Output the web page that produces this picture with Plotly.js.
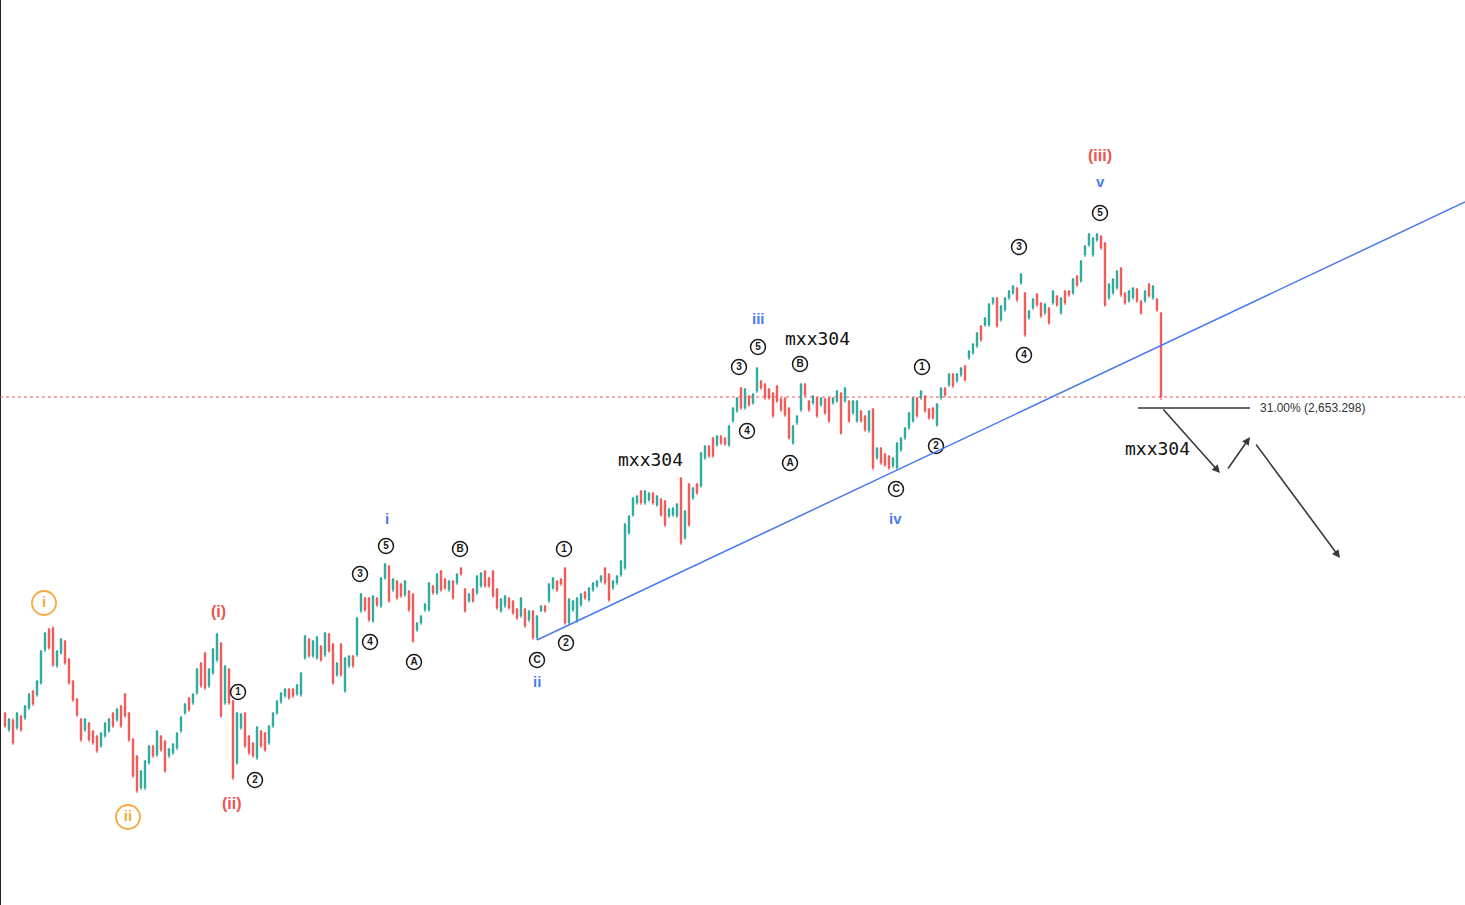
<!DOCTYPE html>
<html><head><meta charset="utf-8">
<script src="https://cdn.plot.ly/plotly-3.0.1.min.js"></script>
<style>html,body{margin:0;padding:0;background:#fff;overflow:hidden}#chart{width:1465px;height:905px}</style>
</head><body><div id="chart"></div>
<script>
// ---- OHLC bars (price units) ----
const openP=[287,270,280,272,284,282,292,309,305,317,
350,371,372,334,347,359,341,319,301,281,
270,277,269,264,254,264,269,287,280,294,
306,287,261,244,212,212,237,254,245,264,
259,244,247,252,269,287,302,297,307,337,
347,314,327,340,357,297,331,299,237,272,
287,264,257,242,269,267,257,274,287,298,
304,311,311,306,305,342,361,344,342,354,
345,366,356,325,356,309,334,344,345,389,
402,402,379,402,394,422,434,410,419,416,
405,409,406,370,377,390,390,414,407,429,
421,410,419,417,432,411,399,411,407,414,
429,422,429,411,389,394,402,399,391,384,
391,380,389,362,389,394,399,412,419,421,
432,377,390,379,395,408,400,410,414,419,
432,426,412,417,425,432,467,485,497,509,
497,500,507,495,501,499,484,485,484,522,
462,516,502,516,514,542,554,562,555,564,
562,555,579,589,612,592,604,597,609,619,
616,611,607,614,601,602,592,557,577,590,
616,599,597,602,595,601,602,597,599,607,
599,599,587,579,589,584,569,591,542,552,
546,544,534,532,550,562,572,579,602,602,
604,591,592,575,602,612,615,626,619,625,
634,642,647,654,674,675,675,697,702,680,
690,702,707,712,717,707,682,692,706,697,
687,692,697,704,687,709,709,707,724,719,
745,755,745,760,764,757,702,707,712,732,
707,699,702,711,699,699,716,702,701,687];
const highP=[288,282,282,288,285,295,307,310,320,350,
368,372,374,350,362,360,342,320,302,282,
282,278,270,265,268,278,282,288,292,295,
307,288,262,245,230,240,255,255,270,265,
260,252,257,268,284,297,303,307,332,338,
348,332,352,367,358,335,332,300,288,287,
288,265,258,274,270,268,275,288,300,308,
312,312,312,316,328,365,362,360,364,355,
368,367,357,338,357,343,345,345,383,407,
403,403,405,403,423,437,435,422,420,417,
420,410,407,378,385,397,418,415,427,430,
422,420,420,427,433,412,407,412,425,428,
430,423,430,412,402,405,403,400,392,403,
392,390,390,385,395,395,417,423,420,422,
433,402,400,403,407,409,413,418,420,425,
433,427,420,425,440,477,485,503,505,510,
510,508,508,505,502,500,492,493,497,523,
490,517,513,517,548,555,555,563,565,565,
563,575,593,603,613,612,605,607,633,620,
617,612,608,615,602,603,593,575,585,617,
617,600,605,603,603,602,603,603,610,608,
613,600,600,600,590,585,590,592,553,553,
547,545,543,558,563,573,588,603,603,610,
605,592,593,597,613,613,627,627,627,633,
635,650,657,668,675,683,697,703,703,695,
703,710,715,713,727,708,690,702,707,698,
697,693,710,705,703,710,710,722,725,740,
755,767,763,767,765,758,717,722,730,733,
708,710,713,712,700,710,717,715,702,688];
const lowP=[272,268,255,270,268,280,290,294,303,315,
348,350,333,332,345,335,315,298,283,258,
268,258,255,247,252,262,267,272,278,272,
282,258,222,207,210,210,235,242,243,248,
227,242,245,250,267,285,288,295,305,312,
310,312,325,338,282,295,295,220,235,270,
252,245,242,240,252,248,255,272,285,296,
302,300,302,304,303,340,342,342,340,338,
343,347,315,323,323,307,332,332,343,387,
388,378,377,393,392,420,397,408,400,402,
403,388,357,368,375,388,388,405,405,408,
410,408,400,415,424,387,397,397,405,412,
412,412,402,390,387,392,390,385,380,382,
372,378,360,360,388,387,397,410,408,414,
375,375,388,377,393,400,398,408,412,417,
415,398,410,415,423,430,465,483,495,495,
495,498,495,493,483,473,482,483,482,455,
460,473,500,505,512,540,542,542,553,555,
554,553,577,587,590,590,593,595,607,610,
600,600,582,597,588,583,560,555,575,588,
603,588,595,582,593,585,577,595,597,565,
597,577,585,577,577,568,567,530,540,535,
533,530,532,530,548,560,570,577,582,600,
587,580,580,573,600,603,613,612,617,623,
618,640,645,652,658,673,673,695,672,678,
688,700,705,698,715,663,680,690,693,682,
685,675,695,693,685,695,703,705,713,717,
743,753,743,758,750,693,700,705,710,703,
695,697,700,697,685,697,702,700,688,600];
const closeP=[274,281,257,287,270,294,306,296,319,349,
367,352,335,349,361,337,317,300,285,260,
281,260,257,249,267,277,281,274,291,274,
284,260,224,209,229,239,254,244,269,250,
229,251,256,267,283,296,290,306,331,314,
312,331,351,366,284,334,297,222,287,286,
254,247,244,273,254,250,274,287,299,307,
311,302,304,315,327,364,344,359,363,340,
367,349,317,337,325,342,344,334,382,406,
390,380,404,395,422,436,399,421,402,404,
419,390,359,377,384,396,417,407,426,410,
412,419,402,426,426,389,406,399,424,427,
414,414,404,392,401,404,392,387,382,402,
374,389,362,384,394,389,416,422,410,416,
377,401,399,402,406,402,412,417,419,424,
417,400,419,424,439,476,484,502,504,497,
509,507,497,504,485,475,491,492,496,457,
489,475,512,507,547,554,544,544,564,557,
556,574,592,602,592,611,595,606,632,612,
602,602,584,599,590,585,562,574,584,616,
605,590,604,584,602,587,579,602,609,567,
612,579,599,599,579,570,589,532,552,537,
535,532,542,557,562,572,587,602,584,609,
589,582,582,596,612,605,626,614,626,632,
620,649,656,667,660,682,696,702,674,694,
702,709,714,700,726,665,689,701,695,684,
696,677,709,695,702,697,705,721,715,739,
754,766,762,766,752,695,716,721,729,705,
697,709,712,699,687,709,704,714,690,603];

// ---- Wave labels ----
const circX=[58.25,62.5,88.75,95.25,91.25,102.25,113.75,133,139.75,140.25,183.5,188.25,185.5,196.25,198.75,229.25,232.75,222.75,253.5,254.75,273.75];
const circY=[308,220,426,454,358,338,451,340,451,357,633,653,569,537,636,633,554,511,753,645,787];
const circT=['1','2','3','5','4','A','B','C','1','2','3','5','4','A','B','1','2','C','3','4','5'];
const orangeX=[9.75,30.75], orangeY=[397,183], orangeT=['i','ii'];
const redX=[53.25,56.75,273.75], redY=[389,197,845], redT=['(i)','(ii)','(iii)'];
const blueX=[95.5,133,188.25,222.5,273.75], blueY=[482,319,682,482,819], blueT=['i','ii','iii','iv','v'];
const brandX=[161.25,203,288], brandY=[541,662,552], brandT=['mxx304','mxx304','mxx304'];
// ---- Drawings ----
const trendX=[133,365], trendY=[360,798];
const fibX=[283.25,311.25], fibY=592, fibLabel='31.00% (2,653.298)';
const arrowTail=[[289.25,592],[305.5,530],[312.5,557]];
const arrowHead=[[303.75,527],[311.25,563],[333.75,442]];

const idx=openP.map((_,i)=>i);
const GREEN='#26a69a', RED='#ef5350', BLUE='#4a7af0', ORANGE='#f7a93a';
const FONT='Liberation Sans, Arial, sans-serif';
const FONTB='DejaVu Sans, sans-serif';

const traces=[
 {type:'candlestick',x:idx,open:openP,high:highP,low:lowP,close:closeP,whiskerwidth:0,
  increasing:{line:{color:GREEN,width:1},fillcolor:GREEN},
  decreasing:{line:{color:RED,width:1},fillcolor:RED},hoverinfo:'skip'},
 {type:'scatter',mode:'markers+text',x:circX,y:circY,text:circT,textposition:'middle center',
  textfont:{family:FONT,size:10,color:'#1a1a1a',weight:'bold'},
  marker:{symbol:'circle-open',size:15,color:'#1a1a1a',line:{width:1.5}},hoverinfo:'skip'},
 {type:'scatter',mode:'markers+text',x:orangeX,y:orangeY,text:orangeT,textposition:'middle center',
  textfont:{family:FONT,size:15,color:ORANGE,weight:'bold'},
  marker:{symbol:'circle-open',size:24,color:ORANGE,line:{width:1.8}},hoverinfo:'skip'}
];

const ann=[];
redX.forEach((x,i)=>ann.push({x:x,y:redY[i],text:'<b>'+redT[i]+'</b>',showarrow:false,font:{family:FONT,size:16,color:RED}}));
blueX.forEach((x,i)=>ann.push({x:x,y:blueY[i],text:'<b>'+blueT[i]+'</b>',showarrow:false,font:{family:FONT,size:15,color:BLUE}}));
brandX.forEach((x,i)=>ann.push({x:x,y:brandY[i],text:brandT[i],showarrow:false,font:{family:'DejaVu Sans Mono, monospace',size:18,color:'#111'}}));
ann.push({x:fibX[1]+2,y:fibY,text:fibLabel,showarrow:false,xanchor:'left',font:{family:FONT,size:12,color:'#333'}});
arrowTail.forEach((t,i)=>ann.push({x:arrowHead[i][0],y:arrowHead[i][1],ax:t[0],ay:t[1],axref:'x',ayref:'y',
  text:'',showarrow:true,arrowhead:2,arrowsize:1,arrowwidth:1.6,arrowcolor:'#3a3a3a'}));

const lastClose=closeP[closeP.length-1];
const shapes=[
 {type:'line',xref:'paper',yref:'paper',x0:0,x1:0,y0:0,y1:1,line:{color:'#222',width:2}},
 {type:'line',xref:'paper',x0:0,x1:1,y0:lastClose,y1:lastClose,line:{color:RED,width:1,dash:'dot'}},
 {type:'line',x0:trendX[0],y0:trendY[0],x1:trendX[1],y1:trendY[1],line:{color:BLUE,width:1.5}},
 {type:'line',x0:fibX[0],x1:fibX[1],y0:fibY,y1:fibY,line:{color:'#333',width:1.5}}
];

const layout={width:1465,height:905,margin:{l:0,r:0,t:0,b:0,pad:0},paper_bgcolor:'#fff',plot_bgcolor:'#fff',
 showlegend:false,boxgap:0.5,hovermode:false,
 xaxis:{range:[-1.25,365],visible:false,showgrid:false,zeroline:false,rangeslider:{visible:false},fixedrange:true},
 yaxis:{range:[95,1000],visible:false,showgrid:false,zeroline:false,fixedrange:true},
 shapes:shapes,annotations:ann};
Plotly.newPlot('chart',traces,layout,{staticPlot:true,displayModeBar:false});
</script></body></html>
